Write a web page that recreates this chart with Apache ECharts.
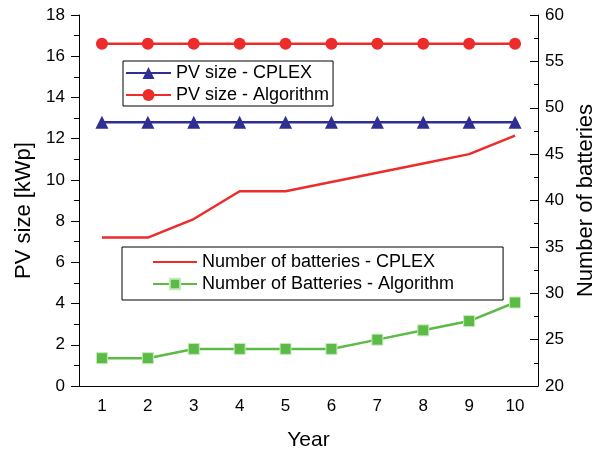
<!DOCTYPE html>
<html>
<head>
<meta charset="utf-8">
<script src="https://cdn.jsdelivr.net/npm/echarts@6/dist/echarts.min.js"></script>
<style>
html,body{margin:0;padding:0;background:#fff;}
#chart{width:607px;height:456px;}
</style>
</head>
<body>
<div id="chart"></div>
<script>
const years = ['1','2','3','4','5','6','7','8','9','10'];
const pvCplex = [12.8,12.8,12.8,12.8,12.8,12.8,12.8,12.8,12.8,12.8];
const pvAlgorithm = [16.6,16.6,16.6,16.6,16.6,16.6,16.6,16.6,16.6,16.6];
const batCplex = [36,36,38,41,41,42,43,44,45,47];
const batAlgorithm = [23,23,24,24,24,24,25,26,27,29];
const leftTicks = {min:0, max:18, interval:2};
const rightTicks = {min:20, max:60, interval:5};

const FONT = '"Liberation Sans", Arial, sans-serif';
const BLUE = '#2f2f93', RED = '#ee2b2b', GREEN = '#5cbb47';

const chart = echarts.init(document.getElementById('chart'), null, {renderer:'canvas'});
chart.setOption({
  animation: false,
  backgroundColor: '#fff',
  textStyle: {fontFamily: FONT, color: '#000'},
  grid: {left: 79, right: 69, top: 15, bottom: 67, containLabel: false},
  legend: [
    {
      data: ['PV size - CPLEX', 'PV size - Algorithm'],
      orient: 'vertical', left: 123, top: 61,
      itemWidth: 45, itemHeight: 15, itemGap: 0,
      padding: [1, 4, 0, 2],
      borderColor: '#000', borderWidth: 1,
      textStyle: {fontFamily: FONT, fontSize: 18, color: '#000', lineHeight: 22},
      selectedMode: false
    },
    {
      data: [
        {name: 'Number of batteries - CPLEX', itemStyle: {opacity: 0}},
        'Number of Batteries - Algorithm'
      ],
      orient: 'vertical', left: 122, top: 247,
      itemWidth: 44, itemHeight: 13, itemGap: 0,
      padding: [4, 49, 5, 30],
      borderColor: '#000', borderWidth: 1,
      textStyle: {fontFamily: FONT, fontSize: 18, color: '#000', lineHeight: 22},
      selectedMode: false
    }
  ],
  xAxis: {
    type: 'category', data: years, boundaryGap: true,
    name: 'Year', nameLocation: 'middle', nameGap: 44,
    nameTextStyle: {fontFamily: FONT, fontSize: 21, color: '#000'},
    axisLine: {lineStyle: {color: '#000', width: 1}},
    axisTick: {alignWithLabel: true, length: 6, lineStyle: {color: '#000'}},
    axisLabel: {fontFamily: FONT, fontSize: 17, color: '#000', margin: 12},
    splitLine: {show: false}
  },
  yAxis: [
    {
      type: 'value', position: 'left', min: leftTicks.min, max: leftTicks.max, interval: leftTicks.interval,
      name: 'PV size [kWp]', nameLocation: 'middle', nameGap: 43,
      nameTextStyle: {fontFamily: FONT, fontSize: 22, color: '#000', padding: [0, 20, 0, 0]},
      axisLine: {show: true, lineStyle: {color: '#000', width: 1}},
      axisTick: {show: true, length: 8, lineStyle: {color: '#000'}},
      minorTick: {show: true, splitNumber: 2, length: 5, lineStyle: {color: '#000'}},
      axisLabel: {fontFamily: FONT, fontSize: 17, color: '#000', margin: 14},
      splitLine: {show: false}
    },
    {
      type: 'value', position: 'right', min: rightTicks.min, max: rightTicks.max, interval: rightTicks.interval,
      name: 'Number of batteries', nameLocation: 'middle', nameGap: 28,
      nameTextStyle: {fontFamily: FONT, fontSize: 22, color: '#000'},
      axisLine: {show: true, lineStyle: {color: '#000', width: 1}},
      axisTick: {show: true, inside: true, length: 8, lineStyle: {color: '#000'}},
      minorTick: {show: true, splitNumber: 2, length: 4, lineStyle: {color: '#000'}},
      axisLabel: {fontFamily: FONT, fontSize: 17, color: '#000', margin: 7},
      splitLine: {show: false}
    }
  ],
  series: [
    {
      name: 'PV size - CPLEX', type: 'line', yAxisIndex: 0, data: pvCplex,
      symbol: 'triangle', symbolSize: 13, showAllSymbol: true,
      lineStyle: {color: BLUE, width: 2.5}, itemStyle: {color: BLUE}
    },
    {
      name: 'PV size - Algorithm', type: 'line', yAxisIndex: 0, data: pvAlgorithm,
      symbol: 'circle', symbolSize: 12, showAllSymbol: true,
      lineStyle: {color: RED, width: 2.5}, itemStyle: {color: RED}
    },
    {
      name: 'Number of batteries - CPLEX', type: 'line', yAxisIndex: 1, data: batCplex,
      symbol: 'none',
      lineStyle: {color: RED, width: 2.5}, itemStyle: {color: RED}
    },
    {
      name: 'Number of Batteries - Algorithm', type: 'line', yAxisIndex: 1, data: batAlgorithm,
      symbol: 'rect', symbolSize: 11, showAllSymbol: true,
      lineStyle: {color: GREEN, width: 2.5},
      itemStyle: {color: GREEN, borderColor: '#c6eabd', borderWidth: 1}
    }
  ]
});
</script>
</body>
</html>
